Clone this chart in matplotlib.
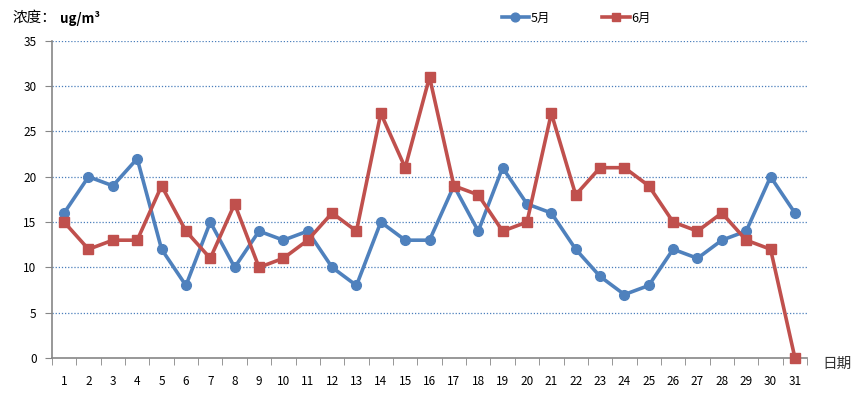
import numpy as np
import matplotlib.pyplot as plt

plt.rcParams['font.family'] = ['Noto Sans CJK SC', 'DejaVu Sans']

days = list(range(1, 32))
may = [16, 20, 19, 22, 12, 8, 15, 10, 14, 13, 14, 10, 8, 15, 13, 13,
       19, 14, 21, 17, 16, 12, 9, 7, 8, 12, 11, 13, 14, 20, 16]
june = [15, 12, 13, 13, 19, 14, 11, 17, 10, 11, 13, 16, 14, 27, 21, 31,
        19, 18, 14, 15, 27, 18, 21, 21, 19, 15, 14, 16, 13, 12, 0]
yticks = [0, 5, 10, 15, 20, 25, 30, 35]

fig = plt.figure(figsize=(8.66, 3.94), dpi=100)
ax = fig.add_axes([0.060, 0.0914, 0.872, 0.805])

blue = '#4F81BD'
red = '#C0504D'
l1, = ax.plot(days, may, color=blue, lw=2.6, marker='o', ms=7, label='5月', zorder=3)
l2, = ax.plot(days, june, color=red, lw=2.6, marker='s', ms=7, label='6月', zorder=3,
              clip_on=False)

ax.set_xlim(0.5, 31.5)
ax.set_ylim(0, 35)
ax.set_yticks(yticks)
ax.set_xticks(days)
ax.set_xticks(np.arange(0.5, 32, 1), minor=True)
ax.tick_params(axis='x', which='major', length=0, pad=12, labelsize=8.5)
ax.tick_params(axis='x', which='minor', length=5, color='#868686', direction='out')
ax.tick_params(axis='y', length=5, color='#868686', labelsize=8.5, pad=6)

for y in yticks[1:]:
    ax.axhline(y, color='#4A7EBB', lw=0.9, ls=(0, (1, 1.5)), zorder=1)

for s in ['top', 'right']:
    ax.spines[s].set_visible(False)
for s in ['left', 'bottom']:
    ax.spines[s].set_color('#868686')
    ax.spines[s].set_linewidth(1.2)

fig.text(13 / 866, 1 - 18 / 394, '浓度：', fontsize=10.5, va='center', ha='left')
fig.text(60 / 866, 1 - 18 / 394, 'ug/m³', fontsize=9.5, va='center', ha='left',
         fontweight='bold')
fig.text(822 / 866, 1 - 364 / 394, '日期', fontsize=10.5, va='center', ha='left',
         color='#333333')

fig.legend(handles=[l1, l2], loc='center', bbox_to_anchor=(576 / 866, 1 - 18 / 394),
           ncol=2, frameon=False, fontsize=9, columnspacing=4.2, handlelength=2.2,
           handletextpad=0.1, markerscale=0.9)

fig.savefig('out.png', dpi=100)
